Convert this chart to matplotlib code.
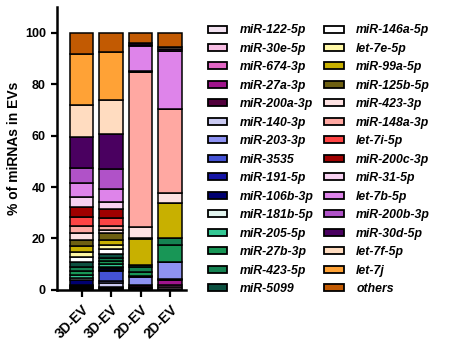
import numpy as np
import matplotlib.pyplot as plt
from matplotlib.patches import Patch

plt.rcParams['font.family'] = ['Liberation Sans', 'DejaVu Sans']
plt.rcParams['font.weight'] = 'bold'

samples = ['3D-EV', '3D-EV', '2D-EV', '2D-EV']

mirnas = ['miR-122-5p', 'miR-30e-5p', 'miR-674-3p', 'miR-27a-3p', 'miR-200a-3p',
          'miR-140-3p', 'miR-203-3p', 'miR-3535', 'miR-191-5p', 'miR-106b-3p',
          'miR-181b-5p', 'miR-205-5p', 'miR-27b-3p', 'miR-423-5p', 'miR-5099',
          'miR-146a-5p', 'let-7e-5p', 'miR-99a-5p', 'miR-125b-5p', 'miR-423-3p',
          'miR-148a-3p', 'let-7i-5p', 'miR-200c-3p', 'miR-31-5p', 'let-7b-5p',
          'miR-200b-3p', 'miR-30d-5p', 'let-7f-5p', 'let-7j', 'others']

colors = ['#f2e2f0', '#f7bde4', '#e266c4', '#a0148c', '#52003c',
          '#cacaf2', '#8e92f2', '#4452d4', '#1414a4', '#000070',
          '#e2f4ee', '#34c894', '#189656', '#158252', '#0c5040',
          '#ffffff', '#fff8a6', '#c8b000', '#6e6012', '#fde2e2',
          '#ffa8a2', '#ff4444', '#a00000', '#f8d2f2', '#de84ea',
          '#b052c8', '#4a0060', '#ffdcc0', '#ffa236', '#c25a02']

# % of each miRNA per sample (bottom to top)
ev3d_1 = [0.3, 0.2, 0.1, 0.1, 0.2, 0.1, 0.2, 0.2, 0.6, 2.0,
          0.6, 1.3, 1.5, 1.6, 1.7, 2.2, 1.9, 2.3, 2.5, 2.4,
          2.8, 3.6, 3.9, 3.9, 5.5, 5.8, 11.9, 12.7, 19.6, 8.3]
ev3d_2 = [0.4, 0.2, 0.1, 0.1, 0.2, 1.6, 1.0, 3.6, 0.6, 0.9,
          0.3, 1.0, 1.2, 1.2, 1.6, 1.8, 1.6, 2.2, 2.4, 1.3,
          1.5, 3.0, 3.5, 2.9, 5.2, 7.5, 13.8, 13.2, 18.5, 7.6]
ev2d_1 = [0.3, 0.2, 0.2, 0.3, 0.8, 0.1, 3.2, 0.1, 0.05, 0.05,
          0.0, 0.2, 1.5, 2.0, 0.5, 0.2, 0.1, 9.9, 0.3, 4.6,
          60.0, 0.1, 0.1, 0.2, 10.0, 0.2, 0.8, 0.1, 0.1, 3.8]
ev2d_2 = [0.5, 0.6, 0.8, 2.0, 0.1, 0.1, 6.9, 0.0, 0.0, 0.0,
          0.0, 0.0, 6.4, 2.6, 0.0, 0.0, 0.0, 13.9, 0.0, 3.8,
          32.7, 0.0, 0.0, 0.0, 22.6, 0.0, 0.7, 0.6, 0.0, 5.7]

data = np.array([ev3d_1, ev3d_2, ev2d_1, ev2d_2])

fig = plt.figure(figsize=(4.49, 3.54), dpi=100)
ax = fig.add_axes([0.127, 0.181, 0.287, 0.799])

x = np.arange(len(samples))
bottom = np.zeros(len(samples))
for i, name in enumerate(mirnas):
    ax.bar(x, data[:, i], 0.8, bottom=bottom, color=colors[i],
           edgecolor='black', linewidth=1.1)
    bottom += data[:, i]

ax.set_ylim(0, 110)
ax.set_xlim(-0.83, 3.53)
ax.set_yticks([0, 20, 40, 60, 80, 100])
ax.set_xticks(x)
ax.set_xticklabels(samples, rotation=45, ha='right', rotation_mode='anchor',
                   fontsize=10, fontweight='bold')
ax.tick_params(axis='y', labelsize=9, width=1.6, length=4.5)
ax.tick_params(axis='x', width=1.6, length=5, pad=4)
ax.set_ylabel('% of miRNAs in EVs', fontsize=10, fontweight='bold', labelpad=3)
ax.spines['top'].set_visible(False)
ax.spines['right'].set_visible(False)
ax.spines['left'].set_linewidth(1.8)
ax.spines['bottom'].set_linewidth(1.8)

handles = [Patch(facecolor=c, edgecolor='black', linewidth=1.3) for c in colors]
leg = fig.legend(handles, mirnas, ncol=2, loc='upper left',
                 bbox_to_anchor=(0.452, 0.945), frameon=False,
                 prop={'size': 8.8, 'weight': 'bold', 'style': 'italic'},
                 handlelength=1.6, handleheight=0.5, handletextpad=1.0,
                 labelspacing=0.53, columnspacing=0.9, borderaxespad=0)

fig.savefig('out.png', dpi=100)
